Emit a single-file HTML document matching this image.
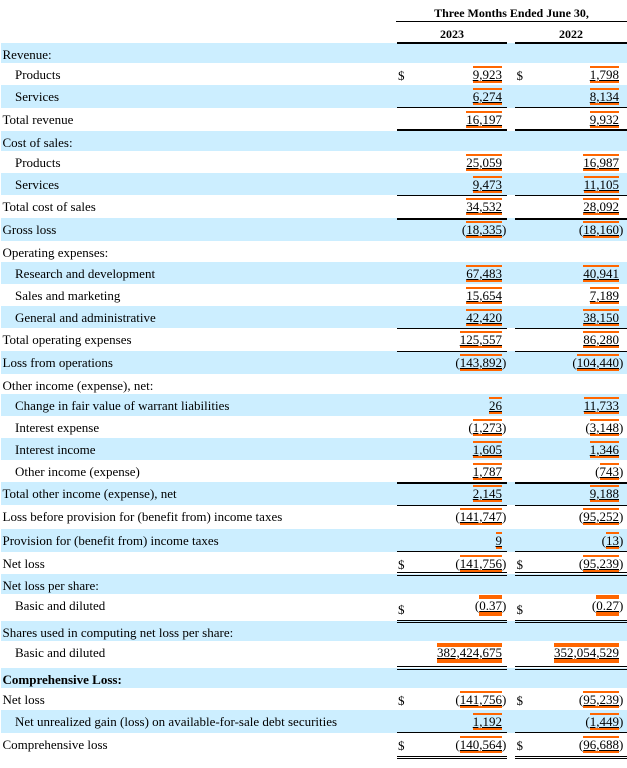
<!DOCTYPE html>
<html><head><meta charset="utf-8"><style>
*{margin:0;padding:0;box-sizing:content-box}
body{width:627px;height:768px;overflow:hidden;background:#fff;position:relative;font-family:"Liberation Serif",serif;font-size:13px;color:#000}
.r{position:absolute;left:1px;width:626px}
.b{background:#cceeff}
.l{position:absolute;left:1.5px;top:0;line-height:23px;white-space:nowrap}
.l.i{left:14px}
.n{position:absolute;top:3px;line-height:17px;white-space:nowrap}
.c1{right:125px}
.c2{right:8px}
.n span{display:inline-block;vertical-align:top;line-height:13px;border-top:2px solid #ff6600;border-bottom:2px solid #ff6600;text-decoration:underline}
.n i{position:absolute;left:100%;top:0;font-style:normal}
.d{position:absolute;top:0;line-height:26px}
.d1{left:397px}
.d2{left:515.5px}
.k{position:absolute;background:#000;height:1px}
.k1{left:397px;width:110px}
.k2{left:515px;width:112px}
.h{position:absolute;font-weight:bold;font-size:12px;line-height:16px;text-align:center;white-space:nowrap}
.g{top:1px;line-height:21px}
.g span{border-top-width:4px;border-bottom-width:4px;line-height:13px}
.g2{top:2px;line-height:20px}
.g2 span{border-top-width:4px;border-bottom-width:4px;line-height:12px}
</style></head><body>

<div class="h" style="left:396px;width:231px;top:5px">Three Months Ended June 30,</div>
<div class="h" style="left:397px;width:110px;top:26px">2023</div>
<div class="h" style="left:515px;width:112px;top:26px">2022</div>

<div class="r b" style="top:43px;height:20px"><div class="l">Revenue:</div></div>
<div class="r" style="top:63px;height:22px"><div class="l i">Products</div><div class="d d1">$</div><div class="n c1"><span>9,923</span></div><div class="d d2">$</div><div class="n c2"><span>1,798</span></div></div>
<div class="r b" style="top:85px;height:23px"><div class="l i">Services</div><div class="n c1"><span>6,274</span></div><div class="n c2"><span>8,134</span></div></div>
<div class="r" style="top:108px;height:23px"><div class="l">Total revenue</div><div class="n c1"><span>16,197</span></div><div class="n c2"><span>9,932</span></div></div>
<div class="r b" style="top:131px;height:20px"><div class="l">Cost of sales:</div></div>
<div class="r" style="top:151px;height:22px"><div class="l i">Products</div><div class="n c1"><span>25,059</span></div><div class="n c2"><span>16,987</span></div></div>
<div class="r b" style="top:173px;height:22px"><div class="l i">Services</div><div class="n c1"><span>9,473</span></div><div class="n c2"><span>11,105</span></div></div>
<div class="r" style="top:195px;height:23px"><div class="l">Total cost of sales</div><div class="n c1"><span>34,532</span></div><div class="n c2"><span>28,092</span></div></div>
<div class="r b" style="top:218px;height:23px"><div class="l">Gross loss</div><div class="n c1">(<span>18,335</span><i>)</i></div><div class="n c2">(<span>18,160</span><i>)</i></div></div>
<div class="r" style="top:241px;height:21px"><div class="l">Operating expenses:</div></div>
<div class="r b" style="top:262px;height:22px"><div class="l i">Research and development</div><div class="n c1"><span>67,483</span></div><div class="n c2"><span>40,941</span></div></div>
<div class="r" style="top:284px;height:22px"><div class="l i">Sales and marketing</div><div class="n c1"><span>15,654</span></div><div class="n c2"><span>7,189</span></div></div>
<div class="r b" style="top:306px;height:22px"><div class="l i">General and administrative</div><div class="n c1"><span>42,420</span></div><div class="n c2"><span>38,150</span></div></div>
<div class="r" style="top:328px;height:23px"><div class="l">Total operating expenses</div><div class="n c1"><span>125,557</span></div><div class="n c2"><span>86,280</span></div></div>
<div class="r b" style="top:351px;height:23px"><div class="l">Loss from operations</div><div class="n c1">(<span>143,892</span><i>)</i></div><div class="n c2">(<span>104,440</span><i>)</i></div></div>
<div class="r" style="top:374px;height:20px"><div class="l">Other income (expense), net:</div></div>
<div class="r b" style="top:394px;height:22px"><div class="l i">Change in fair value of warrant liabilities</div><div class="n c1"><span>26</span></div><div class="n c2"><span>11,733</span></div></div>
<div class="r" style="top:416px;height:22px"><div class="l i">Interest expense</div><div class="n c1">(<span>1,273</span><i>)</i></div><div class="n c2">(<span>3,148</span><i>)</i></div></div>
<div class="r b" style="top:438px;height:22px"><div class="l i">Interest income</div><div class="n c1"><span>1,605</span></div><div class="n c2"><span>1,346</span></div></div>
<div class="r" style="top:460px;height:22px"><div class="l i">Other income (expense)</div><div class="n c1"><span>1,787</span></div><div class="n c2">(<span>743</span><i>)</i></div></div>
<div class="r b" style="top:482px;height:23px"><div class="l">Total other income (expense), net</div><div class="n c1"><span>2,145</span></div><div class="n c2"><span>9,188</span></div></div>
<div class="r" style="top:505px;height:24px"><div class="l">Loss before provision for (benefit from) income taxes</div><div class="n c1">(<span>141,747</span><i>)</i></div><div class="n c2">(<span>95,252</span><i>)</i></div></div>
<div class="r b" style="top:529px;height:23px"><div class="l">Provision for (benefit from) income taxes</div><div class="n c1"><span>9</span></div><div class="n c2">(<span>13</span><i>)</i></div></div>
<div class="r" style="top:552px;height:22px"><div class="l">Net loss</div><div class="d d1">$</div><div class="n c1">(<span>141,756</span><i>)</i></div><div class="d d2">$</div><div class="n c2">(<span>95,239</span><i>)</i></div></div>
<div class="r b" style="top:574px;height:20px"><div class="l">Net loss per share:</div></div>
<div class="r" style="top:594px;height:27px"><div class="l i">Basic and diluted</div><div class="d d1" style="line-height:32px">$</div><div class="n c1 g">(<span>0.37</span><i>)</i></div><div class="d d2" style="line-height:32px">$</div><div class="n c2 g">(<span>0.27</span><i>)</i></div></div>
<div class="r b" style="top:621px;height:20px"><div class="l">Shares used in computing net loss per share:</div></div>
<div class="r" style="top:641px;height:27px"><div class="l i">Basic and diluted</div><div class="n c1 g2"><span>382,424,675</span></div><div class="n c2 g2"><span>352,054,529</span></div></div>
<div class="r b" style="top:668px;height:20px"><div class="l" style="font-weight:bold">Comprehensive Loss:</div></div>
<div class="r" style="top:688px;height:22px"><div class="l">Net loss</div><div class="d d1">$</div><div class="n c1">(<span>141,756</span><i>)</i></div><div class="d d2">$</div><div class="n c2">(<span>95,239</span><i>)</i></div></div>
<div class="r b" style="top:710px;height:23px"><div class="l i">Net unrealized gain (loss) on available-for-sale debt securities</div><div class="n c1"><span>1,192</span></div><div class="n c2">(<span>1,449</span><i>)</i></div></div>
<div class="r" style="top:733px;height:24px"><div class="l">Comprehensive loss</div><div class="d d1">$</div><div class="n c1">(<span>140,564</span><i>)</i></div><div class="d d2">$</div><div class="n c2">(<span>96,688</span><i>)</i></div></div>

<div class="k" style="left:396px;width:231px;top:21px"></div>
<div class="k k1" style="top:42px;height:2px"></div><div class="k k2" style="top:42px;height:2px"></div>
<div class="k k1" style="top:107px"></div><div class="k k2" style="top:107px"></div>
<div class="k k1" style="top:129px;height:2px"></div><div class="k k2" style="top:129px;height:2px"></div>
<div class="k k1" style="top:195px"></div><div class="k k2" style="top:195px"></div>
<div class="k k1" style="top:218px;height:2px"></div><div class="k k2" style="top:218px;height:2px"></div>
<div class="k k1" style="top:328px"></div><div class="k k2" style="top:328px"></div>
<div class="k k1" style="top:351px"></div><div class="k k2" style="top:351px"></div>
<div class="k k1" style="top:482px;height:2px"></div><div class="k k2" style="top:482px;height:2px"></div>
<div class="k k1" style="top:505px"></div><div class="k k2" style="top:505px"></div>
<div class="k k1" style="top:551px"></div><div class="k k2" style="top:551px"></div>
<div class="k k1" style="top:572px"></div><div class="k k2" style="top:572px"></div>
<div class="k k1" style="top:575px"></div><div class="k k2" style="top:575px"></div>
<div class="k k1" style="top:620px"></div><div class="k k2" style="top:620px"></div>
<div class="k k1" style="top:622px"></div><div class="k k2" style="top:622px"></div>
<div class="k k1" style="top:666px"></div><div class="k k2" style="top:666px"></div>
<div class="k k1" style="top:669px"></div><div class="k k2" style="top:669px"></div>
<div class="k k1" style="top:732px"></div><div class="k k2" style="top:732px"></div>
<div class="k k1" style="top:756px"></div><div class="k k2" style="top:756px"></div>
<div class="k k1" style="top:758px"></div><div class="k k2" style="top:758px"></div>

</body></html>
